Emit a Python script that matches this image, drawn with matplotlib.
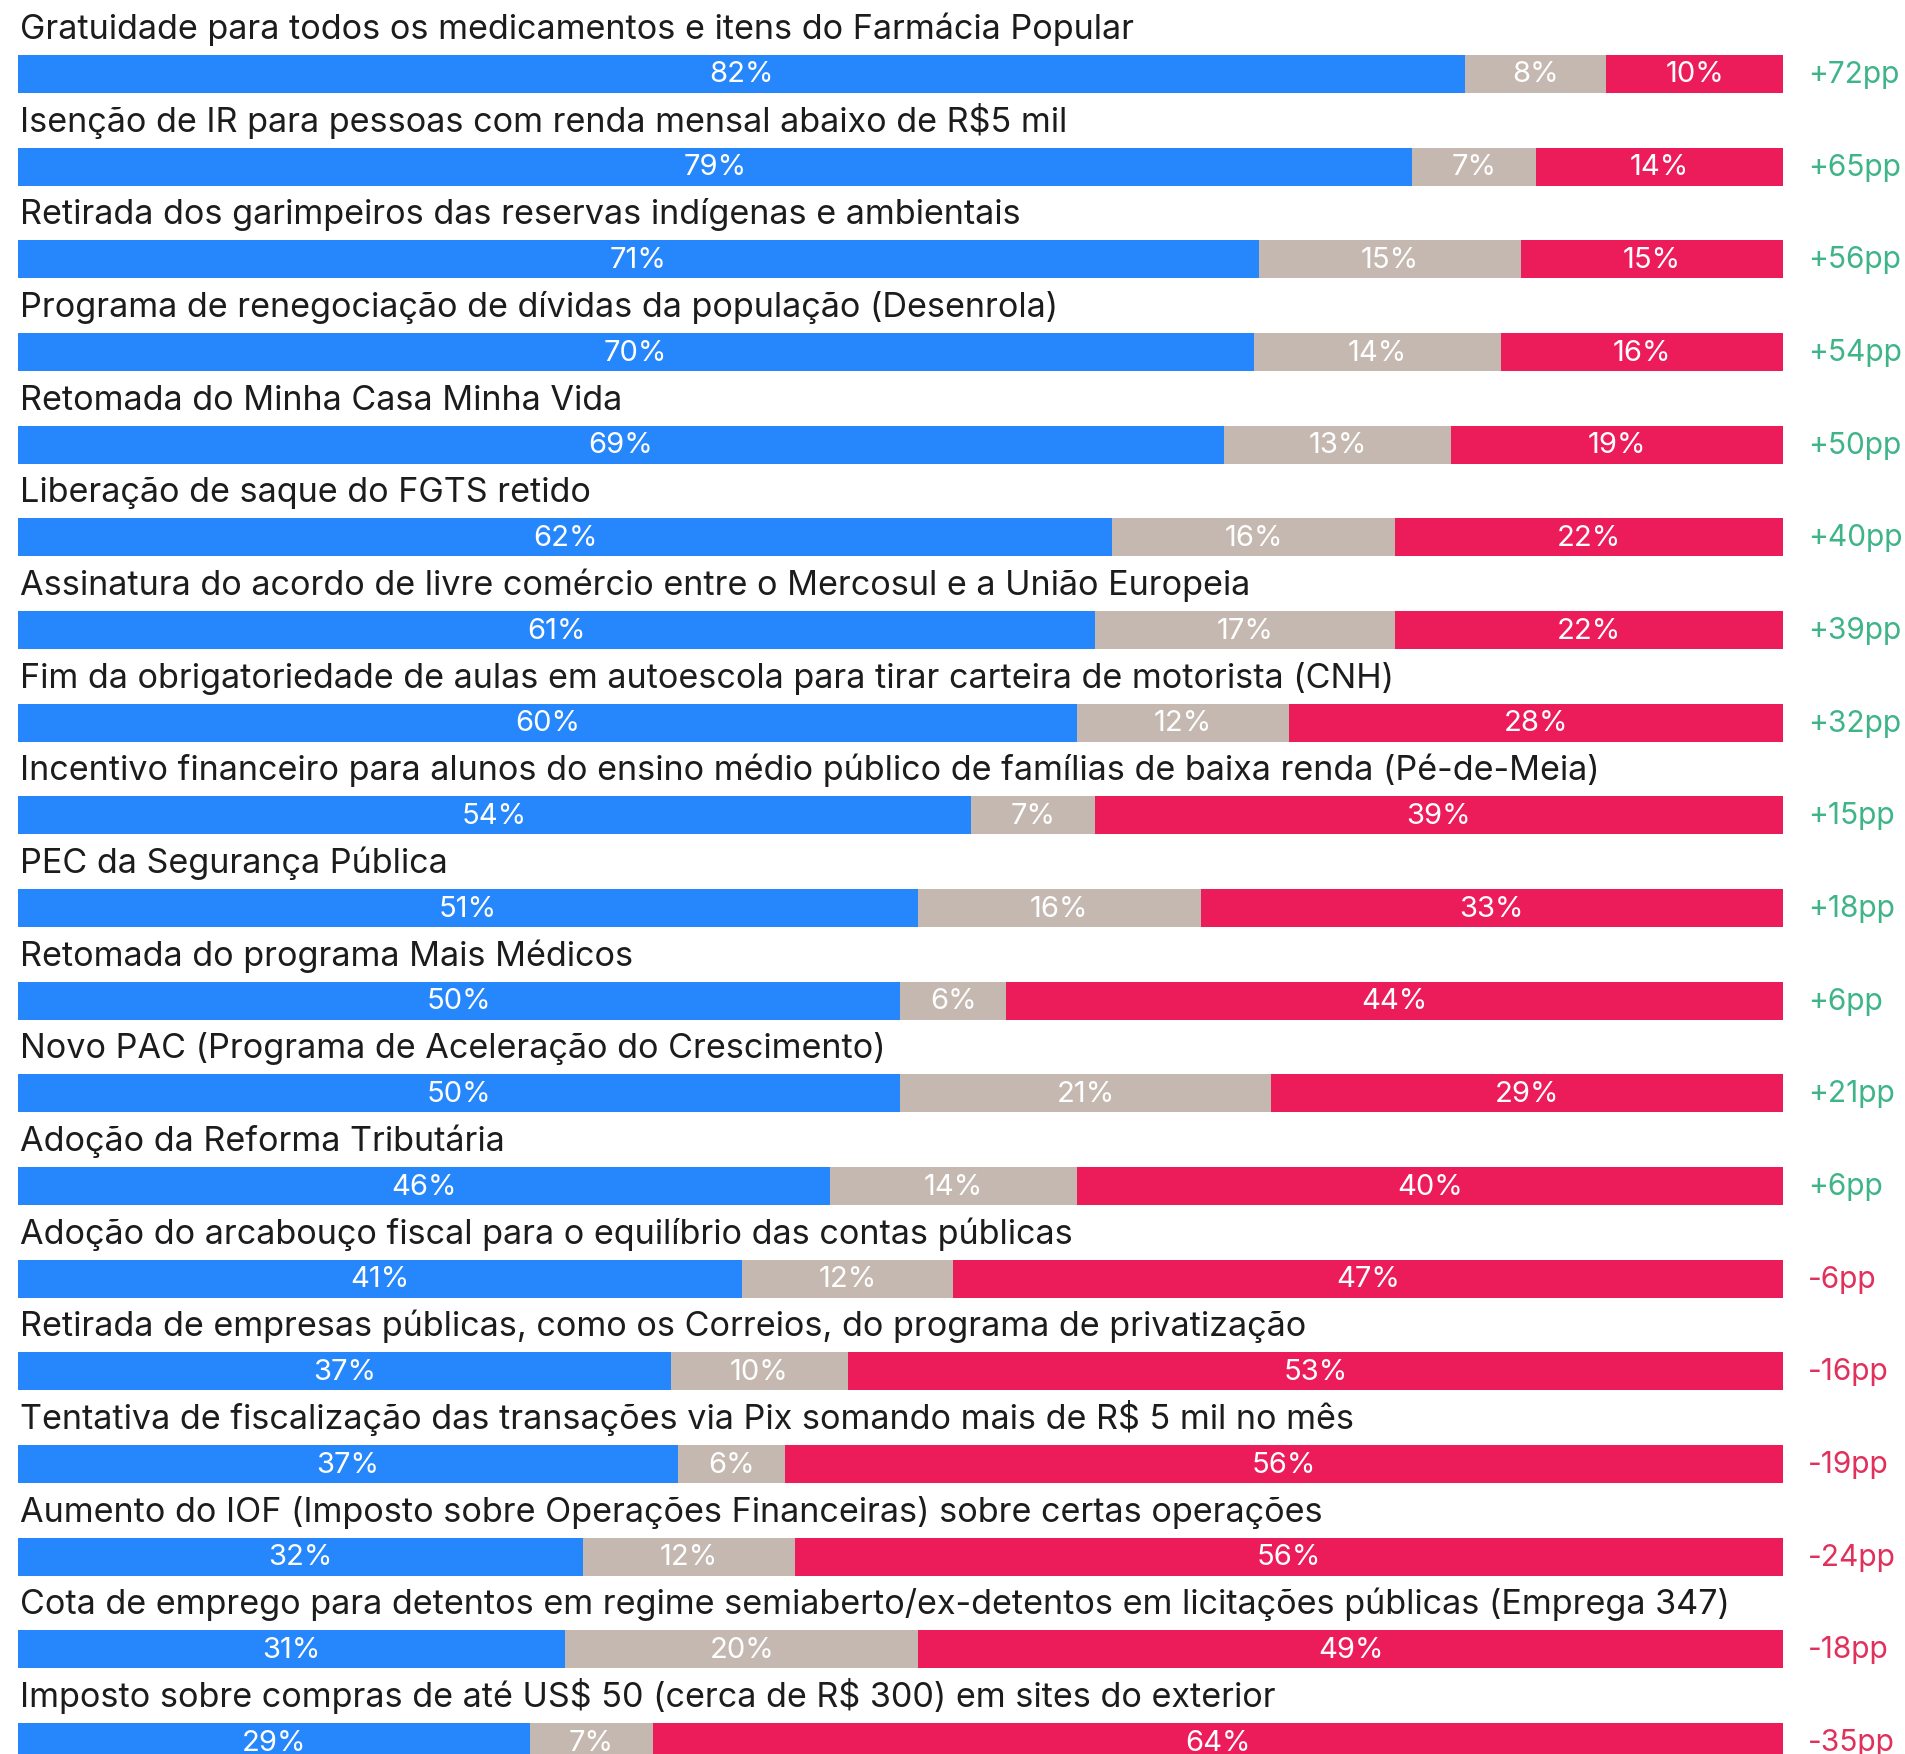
"""
Approval of government measures: stacked horizontal bars with net balance.
"""

import matplotlib.pyplot as plt
import numpy as np

plt.rcParams['font.family'] = ['Inter', 'DejaVu Sans']

measures = [
    "Gratuidade para todos os medicamentos e itens do Farmácia Popular",
    "Isenção de IR para pessoas com renda mensal abaixo de R$5 mil",
    "Retirada dos garimpeiros das reservas indígenas e ambientais",
    "Programa de renegociação de dívidas da população (Desenrola)",
    "Retomada do Minha Casa Minha Vida",
    "Liberação de saque do FGTS retido",
    "Assinatura do acordo de livre comércio entre o Mercosul e a União Europeia",
    "Fim da obrigatoriedade de aulas em autoescola para tirar carteira de motorista (CNH)",
    "Incentivo financeiro para alunos do ensino médio público de famílias de baixa renda (Pé-de-Meia)",
    "PEC da Segurança Pública",
    "Retomada do programa Mais Médicos",
    "Novo PAC (Programa de Aceleração do Crescimento)",
    "Adoção da Reforma Tributária",
    "Adoção do arcabouço fiscal para o equilíbrio das contas públicas",
    "Retirada de empresas públicas, como os Correios, do programa de privatização",
    "Tentativa de fiscalização das transações via Pix somando mais de R$ 5 mil no mês",
    "Aumento do IOF (Imposto sobre Operações Financeiras) sobre certas operações",
    "Cota de emprego para detentos em regime semiaberto/ex-detentos em licitações públicas (Emprega 347)",
    "Imposto sobre compras de até US$ 50 (cerca de R$ 300) em sites do exterior",
]
approve = [82, 79, 71, 70, 69, 62, 61, 60, 54, 51, 50, 50, 46, 41, 37, 37, 32, 31, 29]
neutral = [8, 7, 15, 14, 13, 16, 17, 12, 7, 16, 6, 21, 14, 12, 10, 6, 12, 20, 7]
disapprove = [10, 14, 15, 16, 19, 22, 22, 28, 39, 33, 44, 29, 40, 47, 53, 56, 56, 49, 64]

BLUE = '#2686fb'
GRAY = '#c4b8b0'
RED = '#ec1c5b'
GREEN = '#3fb489'
NEG = '#e0305c'
TEXT = '#1c1c1c'

W, H = 1906, 1754
fig = plt.figure(figsize=(W / 100, H / 100), dpi=100)
ax = fig.add_axes([0, 0, 1, 1])

# map 0..100% onto pixel 18..1783, y axis in pixels (top down)
x0, x1 = 18, 1783
ax.set_xlim(-x0 / (x1 - x0) * 100, (W - x0) / (x1 - x0) * 100)
ax.set_ylim(H, 0)
ax.axis('off')

vals = np.array([approve, neutral, disapprove], dtype=float)
shares = vals / vals.sum(axis=0) * 100
y = 74 + np.arange(len(measures)) * 92.67
bar_h = 38

left = np.zeros(len(measures))
for row, vals_row, color in zip(shares, vals, [BLUE, GRAY, RED]):
    ax.barh(y, row, left=left, height=bar_h, color=color, linewidth=0)
    for yi, l, w, v in zip(y, left, row, vals_row):
        ax.text(l + w / 2, yi + 1, f"{int(v)}%", ha='center', va='center',
                color='white', fontsize=21)
    left += row

for yi, name, a, d in zip(y, measures, approve, disapprove):
    ax.text(0.1, yi - 35, name, ha='left', va='baseline', color=TEXT,
            fontsize=24.6, parse_math=False)
    net = a - d
    label = f"+{net}pp" if net > 0 else f"-{abs(net)}pp"
    ax.text(101.4, yi + 1, label, ha='left', va='center',
            color=GREEN if net > 0 else NEG, fontsize=21.5)

fig.savefig('out.png', dpi=100, facecolor='white')
